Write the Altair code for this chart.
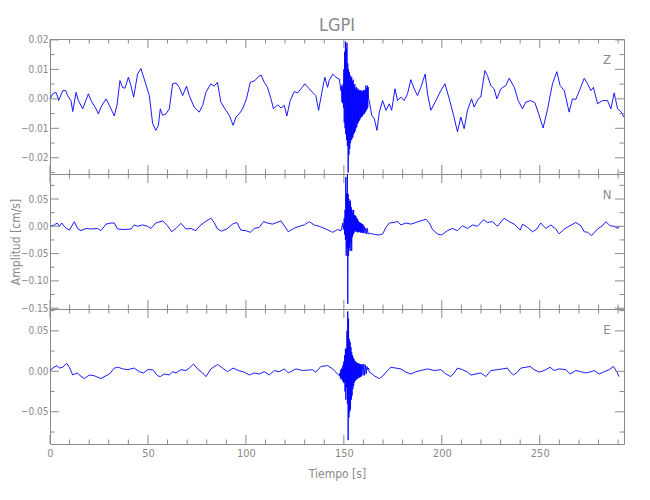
import altair as alt
import pandas as pd

# ---------------- data ----------------
# Z component (cm/s)
z_time = [0, 1.4, 3, 4, 4.4, 6.5, 8, 9, 10.7, 11.6, 13.3, 14.5, 16.7, 19.6, 21, 23.5, 24.7, 26, 28.6, 30.3,
          32.8, 34.2, 35.7, 37, 38.3, 40, 41.3, 42.7, 44.7, 46.4, 48.1, 50.7, 52.4, 54, 55.3, 56.3, 57.5, 59.2,
          60.9, 62.6, 64.3, 66, 67.7, 69.7, 71.1, 73.6, 76.2, 77.9, 79.6, 82.1, 83.8, 85.5, 87.2, 89.3, 91.5,
          93.5, 94.9, 96.6, 98.3, 100.3, 102.2, 104.6, 106, 107.7, 109.4, 111, 112.8, 114.1, 116.2, 117.9,
          119.6, 120.9, 122.6, 124.7, 126.4, 128.1, 130.1, 132.3, 135.7, 137.1, 138.3, 139.1, 140.3, 141.7,
          142.5, 144.3, 146, 147.7, 148.5,
          148.8, 149.0, 149.2, 149.4, 149.6, 149.8, 150.0, 150.2, 150.4, 150.6, 150.8, 151.0, 151.2, 151.4,
          151.6, 151.8, 152.0, 152.2, 152.4, 152.6, 152.8, 153.0, 153.2, 153.4, 153.6, 153.8, 154.0, 154.2,
          154.4, 154.6, 154.8, 155.0, 155.2, 155.4, 155.6, 155.8, 156.0, 156.2, 156.4, 156.6, 156.8, 157.0,
          157.2, 157.4, 157.6, 157.8, 158.0, 158.2, 158.4, 158.6, 158.8, 159.0, 159.2, 159.4, 159.6, 159.8,
          160.0, 160.2, 160.4, 160.6, 160.8, 161.0, 161.2, 161.4, 161.6, 161.8, 162.0, 162.2, 162.4, 162.6,
          163, 164.2, 165.5, 166.9, 168.1, 169.8, 171.5, 173.2, 174.4, 176.1, 177.4, 179.1, 180.8, 182.5,
          184.2, 185.9, 187.6, 189.3, 191.5, 192.7, 194.4, 197, 199.5, 201.6, 203.8, 206, 208, 209.7, 211.4,
          213.1, 215.2, 216.5, 218.6, 219.9, 222, 223.3, 225, 226.7, 228.1, 230.1, 232.7, 234.4, 237, 239,
          241.2, 242.9, 245.4, 247.5, 249.7, 251.7, 254, 256.5, 258.7, 260.4, 262.5, 265, 266.7, 268.4, 270.6,
          272.7, 274.4, 276.1, 277.4, 279.5, 282, 284.6, 286.3, 288, 289.7, 291.4, 293]
z_amp = [0.0, 0.0017, 0.0022, 0.0006, -0.0006, 0.0028, 0.0028, 0.0011, -0.0006, -0.0043, 0.0022, -0.0006,
         -0.0034, 0.0017, -0.0006, -0.0034, -0.0051, -0.0028, 0.0, -0.0022, -0.0058, -0.0022, 0.0062, 0.0039,
         0.0036, 0.0073, 0.0045, 0.0006, 0.0084, 0.0103, 0.0067, 0.0011, -0.0084, -0.0107, -0.0090, -0.0034,
         -0.0056, -0.0051, -0.0034, 0.0051, 0.0054, 0.0039, 0.0011, 0.0043, 0.0011, -0.0028, -0.0045, -0.0022,
         0.0022, 0.0051, 0.0043, 0.0056, -0.0011, -0.0034, -0.0056, -0.0090, -0.0062, -0.0051, -0.0034, 0.0,
         0.0056, 0.0062, 0.0073, 0.0081, 0.0056, 0.0039, 0.0, -0.0034, -0.0020, -0.0031, -0.0022, -0.0058,
         -0.0006, 0.0025, 0.0020, 0.0034, 0.0051, 0.0034, 0.0011, -0.0039, 0.0005, 0.0034, 0.0073, 0.0039,
         0.0062, 0.0084, 0.0073, 0.0067, 0.0028,
         0.0045, -0.0010, 0.0040, -0.0015, 0.0050, -0.0030, 0.0100, -0.0080, 0.0160, -0.0100, 0.0195, -0.0120,
         0.0170, -0.0140, 0.0190, -0.0160, 0.0120, -0.0250, 0.0100, -0.0190, 0.0090, -0.0170, 0.0080, -0.0150,
         0.0070, -0.0140, 0.0075, -0.0135, 0.0060, -0.0130, 0.0065, -0.0120, 0.0045, -0.0115, 0.0050, -0.0110,
         0.0035, -0.0100, 0.0040, -0.0095, 0.0030, -0.0085, 0.0035, -0.0080, 0.0030, -0.0075, 0.0028, -0.0070,
         0.0030, -0.0065, 0.0025, -0.0060, 0.0028, -0.0060, 0.0025, -0.0055, 0.0030, -0.0050, 0.0028, -0.0050,
         0.0030, -0.0045, 0.0045, -0.0040, 0.0035, -0.0035, 0.0045, -0.0030, 0.0040, 0.0000,
         -0.0006, -0.0056, -0.0067, -0.0107, -0.0045, -0.0006, -0.0039, -0.0017, -0.0039, 0.0034, -0.0006,
         0.0006, -0.0006, 0.0017, 0.0065, 0.0034, 0.0011, 0.0039, 0.0084, 0.0017, -0.0039, -0.0006, 0.0028,
         0.0051, 0.0, -0.0056, -0.0112, -0.0062, -0.0101, -0.0039, 0.0, -0.0028, 0.0, 0.0006, 0.0096, 0.0079,
         0.0045, 0.0034, 0.0, 0.0034, 0.0045, 0.0070, 0.0039, -0.0006, -0.0034, -0.0011, -0.0006, -0.0013,
         -0.0056, -0.0099, -0.0034, 0.0051, 0.0092, 0.0045, 0.0028, -0.0045, 0.0, -0.0002, 0.0034, 0.0070,
         0.0051, 0.0028, 0.0039, -0.0017, -0.0006, -0.0006, -0.0034, 0.0020, -0.0034, -0.0043, -0.0062]

# N component (cm/s)
n_time = [0, 2.2, 3.6, 4.8, 6, 7.7, 9.9, 12.4, 14.1, 15.8, 18.4, 20.9, 24.3, 26, 28.6, 31.1, 32.8, 34.5, 37.9,
          41.3, 43, 44.7, 47.3, 49.8, 51.5, 54, 57.5, 60, 62.1, 64.3, 66.8, 69.4, 71.9, 74.5, 76.2, 78.7, 82.1,
          83.8, 85.5, 87.6, 90.6, 93.2, 95.4, 97.4, 100, 102.2, 104.3, 106.8, 109, 111, 113.6, 117.9, 121.6,
          124.3, 127.2, 129.8, 132.3, 134.9, 137.4, 140.8, 144.3, 146.8, 148.5,
          149.0, 149.4, 149.8, 150.2, 150.4, 150.6, 150.8, 151.0, 151.2, 151.4, 151.6, 151.8, 152.0, 152.2,
          152.4, 152.6, 152.8, 153.0, 153.2, 153.4, 153.6, 153.8, 154.0, 154.2, 154.4, 154.6, 154.8, 155.0,
          155.2, 155.4, 155.6, 155.8, 156.0, 156.2, 156.4, 156.6, 156.8, 157.0, 157.2, 157.4, 157.6, 157.8,
          158.0, 158.2, 158.4, 158.6, 158.8, 159.0, 159.2, 159.4, 159.6, 159.8, 160.0, 160.4, 160.8, 161.2,
          161.6, 162.0, 162.4, 163.0, 164.7, 166.0, 168.0, 169.8,
          171.5, 173.2, 175.7, 177.4, 179.1, 181.7, 184.2, 186.8, 189.3, 191.9, 193.6, 195.3, 197.8, 199.9,
          202.9, 205.5, 208, 210.6, 213.1, 215.7, 218.2, 221.3, 223.3, 225.9, 228.4, 231.8, 234.4, 237, 240,
          241.2, 243.7, 246.3, 248.5, 250.5, 253.1, 255.6, 258.2, 259.9, 262.5, 265, 268.4, 271, 272.7, 274.4,
          276.4, 279.5, 282, 283.7, 285.9, 288, 290, 290.6]
n_amp = [0.0, 0.0024, 0.006, 0.0, 0.006, -0.002, -0.007, 0.0085, -0.004, -0.008, -0.004, -0.005, -0.004,
         -0.008, 0.004, 0.006, 0.006, -0.005, -0.006, -0.005, 0.0025, 0.0, 0.0025, 0.0, -0.004, 0.006, 0.010,
         0.001, -0.010, -0.004, 0.0055, -0.005, -0.004, -0.008, 0.0, 0.007, 0.015, 0.007, -0.005, -0.009,
         -0.004, 0.004, 0.007, -0.007, -0.008, -0.011, -0.004, -0.002, 0.0085, 0.006, 0.004, 0.010, -0.010,
         -0.004, 0.0, 0.0025, 0.0085, 0.0025, 0.0, -0.005, -0.011, -0.006, -0.008,
         -0.002, 0.006, -0.006, 0.015, -0.015, 0.030, -0.025, 0.090, -0.054, 0.060, -0.040, 0.095, -0.142,
         0.059, -0.054, 0.050, -0.040, 0.045, -0.045, 0.047, -0.030, 0.035, -0.045, 0.030, -0.020, 0.025,
         -0.015, 0.030, -0.012, 0.020, -0.010, 0.020, -0.008, 0.018, -0.010, 0.015, -0.011, 0.013, -0.010,
         0.010, -0.011, 0.008, -0.010, 0.007, -0.011, 0.006, -0.012, 0.005, -0.011, 0.004, -0.012, 0.003,
         -0.012, 0.0, -0.013, -0.003, -0.014, -0.004, -0.014, -0.013, -0.014, -0.015, -0.016, -0.014,
         -0.002, 0.006, 0.007, 0.009, 0.0025, 0.006, 0.004, 0.007, 0.010, 0.013, 0.006, -0.006, -0.014,
         -0.016, -0.008, -0.004, -0.008, 0.001, -0.004, 0.0025, 0.0, 0.012, 0.007, 0.0085, 0.0, 0.015,
         0.0085, 0.004, -0.007, 0.004, -0.002, -0.010, -0.005, 0.006, -0.004, 0.0025, -0.005, -0.014, -0.005,
         0.0, 0.007, 0.001, -0.010, -0.011, -0.017, -0.005, 0.001, 0.0085, 0.001, 0.0, -0.004, 0.0]

# E component (cm/s)
e_time = [0, 1.9, 3.6, 4.8, 6.5, 8.5, 9.9, 11.6, 13.8, 15.8, 17.5, 20.1, 22.6, 26, 28.6, 30.3, 32.8, 34.9,
          37.1, 39.6, 43, 45.6, 47.8, 49.8, 52.4, 54.9, 56.3, 58.3, 60.9, 62.6, 64.3, 66.8, 69.4, 71.1, 73.3,
          75.3, 77.9, 79.6, 82.1, 85.5, 88.1, 90.6, 93.5, 96.1, 99.1, 101.7, 104.3, 106.8, 109.4, 111.9, 114.5,
          117, 119.6, 121.6, 125.5, 128.9, 131.5, 134, 135.7, 138.3, 141.7, 144.3, 146.8, 147.7,
          148.0, 148.2, 148.4, 148.6, 148.8, 149.0, 149.2, 149.4, 149.6, 149.8, 150.0, 150.2, 150.4, 150.6,
          150.8, 151.0, 151.2, 151.4, 151.6, 151.8, 152.0, 152.2, 152.4, 152.6, 152.8, 153.0, 153.2, 153.4,
          153.6, 153.8, 154.0, 154.2, 154.4, 154.6, 154.8, 155.0, 155.2, 155.4, 155.6, 155.8, 156.0, 156.2,
          156.4, 156.6, 156.8, 157.0, 157.2, 157.4, 157.6, 157.8, 158.0, 158.2, 158.4, 158.6, 158.8, 159.0,
          159.4, 159.8, 160.2, 160.6, 161.0, 161.4, 161.8, 162.2, 162.6, 163.0, 163.8, 165.5,
          168.1, 169.8, 171.5, 174, 176.6, 179.1, 181.7, 184.2, 186.8, 189.3, 192.7, 196.1, 199.5, 202.1,
          204.6, 206.3, 208, 210.6, 213.1, 214.8, 217.4, 219.9, 222.5, 225, 228.4, 231, 233.5, 234.9, 236.6,
          238.6, 240.3, 242.9, 245.1, 247.1, 249.7, 252.2, 255.3, 257.3, 259.9, 263.3, 265.5, 268.4, 271,
          273.5, 276.1, 277.8, 280.3, 282.9, 285.4, 287.6, 289.3, 290.5]
e_amp = [0.001, 0.005, 0.007, 0.004, 0.005, 0.010, 0.005, -0.0045, -0.002, -0.006, -0.009, -0.0045, -0.0055,
         -0.009, -0.0055, -0.0033, 0.004, 0.005, 0.003, 0.002, 0.004, -0.0005, -0.002, 0.002, 0.002, -0.0055,
         -0.0065, -0.0033, -0.0045, -0.0005, -0.002, 0.002, 0.001, 0.004, 0.009, 0.003, -0.002, -0.0065, 0.003,
         0.0085, 0.004, -0.0005, 0.004, 0.001, -0.001, -0.0045, -0.002, -0.0033, -0.0005, -0.0045, 0.001,
         -0.0005, 0.003, -0.002, 0.003, 0.001, 0.0015, 0.002, -0.001, 0.006, 0.007, 0.003, -0.0033, -0.0055,
         -0.002, -0.008, 0.002, -0.010, 0.003, -0.009, 0.005, -0.012, 0.008, -0.014, 0.012, -0.014, 0.020,
         -0.025, 0.028, -0.035, 0.028, -0.020, 0.050, -0.040, 0.074, -0.085, 0.065, -0.057, 0.040, -0.050,
         0.036, -0.047, 0.030, -0.035, 0.024, -0.030, 0.020, -0.022, 0.017, -0.018, 0.015, -0.014, 0.013,
         -0.012, 0.012, -0.010, 0.011, -0.010, 0.010, -0.009, 0.010, -0.008, 0.010, -0.008, 0.009, -0.007,
         0.009, -0.007, 0.008, -0.006, 0.009, -0.005, 0.009, -0.005, 0.008, -0.003, 0.006, 0.002, 0.004,
         -0.001, -0.002, -0.0055,
         -0.009, -0.006, -0.001, 0.005, 0.004, 0.003, -0.001, -0.0033, -0.0005, 0.001, 0.003, 0.001, 0.002,
         -0.0033, -0.0065, -0.002, 0.004, 0.002, -0.001, -0.0045, -0.0033, -0.002, -0.0065, 0.001, 0.002,
         0.003, 0.004, -0.001, -0.0045, -0.001, 0.004, 0.005, 0.006, 0.002, -0.001, 0.001, 0.005, 0.001, 0.003,
         0.002, -0.0033, 0.001, -0.0005, -0.002, -0.0005, 0.001, -0.0033, -0.0005, 0.002, 0.006, -0.0005,
         -0.0065]

# axes / ticks
time_domain = [0, 293]
x_major = [0, 50, 100, 150, 200, 250]
x_minor = [10, 20, 30, 40, 60, 70, 80, 90, 110, 120, 130, 140, 160, 170, 180, 190,
           210, 220, 230, 240, 260, 270, 280, 290]

z_domain = [-0.0255, 0.0203]
z_major = [-0.02, -0.01, 0.0, 0.01, 0.02]
z_minor = [-0.025, -0.015, -0.005, 0.005, 0.015]

n_domain = [-0.1515, 0.0958]
n_major = [-0.15, -0.10, -0.05, 0.0, 0.05]
n_minor = [-0.125, -0.075, -0.025, 0.025, 0.075]

e_domain = [-0.0898, 0.077]
e_major = [-0.05, 0.0, 0.05]
e_minor = [-0.075, -0.025, 0.025, 0.075]

title_text = "LGPI"
y_label = "Amplitud [cm/s]"
x_label = "Tiempo [s]"
components = ["Z", "N", "E"]

# ---------------- styling ----------------
W, H = 574, 135
GRAY = "#8a8a8a"
BLUE = "#0000ff"
FONT = "Liberation Sans Narrow, DejaVu Sans Condensed, Liberation Sans, sans-serif"
MAJ, MIN = 9, 4.5

x_scale = alt.Scale(domain=time_domain, nice=False, zero=False)


def panel(t, v, domain, y_major, y_minor, comp, y_title=None, show_x=False):
    ys = alt.Scale(domain=domain, nice=False, zero=False)
    df = pd.DataFrame({"t": t, "v": v})

    yaxis = alt.Axis(values=y_major, format=".2f", ticks=False, domain=False, grid=False,
                     labelColor=GRAY, labelFontSize=10, labelFont=FONT, labelPadding=2,
                     labelFlush=False, labelOverlap=False,
                     titleColor=GRAY, titleFontSize=12, titleFont=FONT, titleFontWeight="normal",
                     titleX=-28, titleY=H / 2)
    if show_x:
        xaxis = alt.Axis(values=x_major, format="d", ticks=False, domain=False, grid=False,
                         labelColor=GRAY, labelFontSize=11, labelFont=FONT, labelPadding=3,
                         labelFlush=False, labelOverlap=False,
                         titleColor=GRAY, titleFontSize=12, titleFont=FONT,
                         titleFontWeight="normal", titlePadding=10)
        xt = x_label
    else:
        xaxis = None
        xt = None

    def X(field):
        return alt.X(field, scale=x_scale, axis=xaxis, title=xt)

    def Y(field):
        return alt.Y(field, scale=ys, axis=yaxis, title=y_title)

    line = alt.Chart(df).mark_line(color=BLUE, strokeWidth=0.9).encode(
        x=X("t:Q"), y=Y("v:Q"))

    layers = [line]

    # inward y ticks (left and right)
    for vals, ln in ((y_major, MAJ), (y_minor, MIN)):
        d = pd.DataFrame({"v": vals})
        layers.append(alt.Chart(d).mark_rule(color=GRAY, strokeWidth=1).encode(
            y=Y("v:Q"), x=alt.value(0), x2=alt.value(ln)))
        layers.append(alt.Chart(d).mark_rule(color=GRAY, strokeWidth=1).encode(
            y=Y("v:Q"), x=alt.value(W), x2=alt.value(W - ln)))
    # inward x ticks (top and bottom)
    for vals, ln in ((x_major, MAJ), (x_minor, MIN)):
        d = pd.DataFrame({"t": vals})
        layers.append(alt.Chart(d).mark_rule(color=GRAY, strokeWidth=1).encode(
            x=X("t:Q"), y=alt.value(0), y2=alt.value(ln)))
        layers.append(alt.Chart(d).mark_rule(color=GRAY, strokeWidth=1).encode(
            x=X("t:Q"), y=alt.value(H), y2=alt.value(H - ln)))

    lab = alt.Chart(pd.DataFrame({"c": [comp]})).mark_text(
        color=GRAY, fontSize=13, font=FONT, align="center", baseline="middle").encode(
        text="c:N", x=alt.value(W - 17), y=alt.value(21))
    layers.append(lab)

    return alt.layer(*layers).properties(width=W, height=H)


p1 = panel(z_time, z_amp, z_domain, z_major, z_minor, components[0]).properties(
    title=alt.TitleParams(title_text, fontSize=18, color=GRAY, font=FONT, fontWeight="normal",
                          anchor="middle", frame="group", offset=0))
p2 = panel(n_time, n_amp, n_domain, n_major, n_minor, components[1], y_title=y_label)
p3 = panel(e_time, e_amp, e_domain, e_major, e_minor, components[2], show_x=True)

chart = alt.vconcat(p1, p2, p3, spacing=0, bounds="flush").properties(
    padding={"left": 0, "top": 8, "right": 5, "bottom": 5},
    background="white",
).configure_view(stroke=GRAY, strokeWidth=1)

chart.save("out.html", embed_options={"renderer": "svg", "actions": False})
